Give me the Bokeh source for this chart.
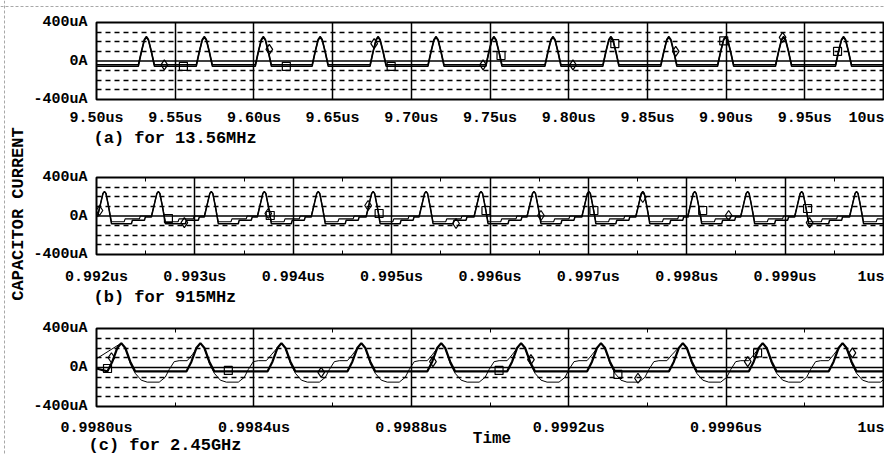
from math import pi
from bokeh.plotting import figure
from bokeh.models import Range1d, FixedTicker, Span, Label, LinearAxis
from bokeh.layouts import row, column
from bokeh.embed import file_html
from bokeh.resources import INLINE

FONT = "Liberation Mono"

# ---------------- panel (a): 13.56 MHz, time in us ----------------
a_range = (9.50, 10.00)
a_ticks = [9.50, 9.55, 9.60, 9.65, 9.70, 9.75, 9.80, 9.85, 9.90, 9.95, 10.00]
a_tick_labels = ["9.50us", "9.55us", "9.60us", "9.65us", "9.70us", "9.75us",
                 "9.80us", "9.85us", "9.90us", "9.95us", "10us"]
a_peaks = [9.5317, 9.5685, 9.6060, 9.6421, 9.6789, 9.7157, 9.7525,
           9.7900, 9.8268, 9.8636, 9.8997, 9.9365, 9.9746]
a_shape_dt = [-0.0051, -0.0032, -0.0013, 0.0, 0.0013, 0.0032, 0.0051]   # us from peak
a_shape_1 = [-40, 100, 225, 255, 225, 100, -40]                         # uA
a_shape_2 = [-55, 90, 215, 245, 215, 90, -55]
a_dia_t = [9.5431, 9.6098, 9.6764, 9.7456, 9.8027, 9.8680, 9.9359]
a_dia_i = [-40, 120, 180, -40, -40, 100, 245]
a_sq_t = [9.5552, 9.6206, 9.6872, 9.7570, 9.8293, 9.8985, 9.9708]
a_sq_i = [-55, -55, -55, 57, 180, 210, 100]

# ---------------- panel (b): 915 MHz ----------------
b_range = (0.992, 1.000)
b_ticks = [0.992, 0.993, 0.994, 0.995, 0.996, 0.997, 0.998, 0.999, 1.000]
b_minor = [0.9925, 0.9935, 0.9945, 0.9955, 0.9965, 0.9975, 0.9985, 0.9995]
b_tick_labels = ["0.992us", "0.993us", "0.994us", "0.995us", "0.996us",
                 "0.997us", "0.998us", "0.999us", "1us"]
b_peaks = [0.992081, 0.992629, 0.993167, 0.993706, 0.994254, 0.994812, 0.995350,
           0.995909, 0.996447, 0.997005, 0.997553, 0.998081, 0.998619, 0.999168, 0.999726]
b_shape_dt_ns_1 = [-0.071, -0.041, -0.015, 0.0, 0.015, 0.041, 0.071, 0.274, 0.284, 0.406, 0.416, 0.467]
b_shape_1 = [-10, 120, 235, 255, 235, 100, -80, -80, -45, -45, -10, -10]
b_shape_dt_ns_2 = [-0.071, -0.041, -0.015, 0.0, 0.015, 0.041, 0.071, 0.200, 0.210, 0.355, 0.365, 0.467]
b_shape_2 = [0, 125, 235, 250, 235, 105, -60, -60, -30, -30, 0, 0]
b_dia_t = [0.992030, 0.992893, 0.993746, 0.994761, 0.995655, 0.996518, 0.997553, 0.998426, 0.999249]
b_dia_i = [57, -68, 26, 109, -78, 5, 192, 5, -68]
b_sq_t = [0.992731, 0.993766, 0.994873, 0.995959, 0.997056, 0.998162, 0.999228]
b_sq_i = [-26, 5, 26, 57, 57, 57, 78]

# ---------------- panel (c): 2.45 GHz ----------------
c_range = (0.9980, 1.0000)
c_ticks = [0.9980, 0.9984, 0.9988, 0.9992, 0.9996, 1.0000]
c_minor = [0.9982, 0.9986, 0.9990, 0.9994, 0.9998]
c_tick_labels = ["0.9980us", "0.9984us", "0.9988us", "0.9992us", "0.9996us", "1us"]
c_peaks = [0.998063, 0.998264, 0.998470, 0.998673, 0.998876,
           0.999079, 0.999282, 0.999490, 0.999693, 0.999896]
c_thick_dt_ns = [-0.0355, -0.0228, -0.0102, 0.0, 0.0102, 0.0228, 0.0355]
c_thick = [-40, 60, 200, 250, 200, 60, -40]
c_thin_dt_ns = [0.0, 0.0102, 0.0228, 0.0355, 0.0508, 0.066, 0.0964, 0.1117,
                0.1218, 0.1345, 0.1472, 0.1675, 0.1802]
c_thin = [250, 200, 40, -60, -130, -150, -150, -100, -20, 60, 70, 70, 130]
c_thick_start, c_thin_start = -10, 90
c_dia_t = [0.998038, 0.998571, 0.998855, 0.999104, 0.999376, 0.999655, 0.999921]
c_dia_i = [100, -50, 60, 80, -110, 60, 150]
c_sq_t = [0.998028, 0.998335, 0.999023, 0.999325, 0.999680]
c_sq_i = [-10, -30, -30, -70, 150]

y_ticks = [-400, 0, 400]
y_tick_labels = ["-400uA", "0A", "400uA"]
y_dashed = [-300, -200, -100, 100, 200, 300]

captions = ["(a) for 13.56MHz", "(b) for 915MHz", "(c) for 2.45GHz"]
x_title = "Time"
y_title = "CAPACITOR CURRENT"


def train(peaks, dts, vals, scale=1.0, start=None, end=None):
    xs, ys = [], []
    if start is not None:
        xs.append(start[0]); ys.append(start[1])
    for pk in peaks:
        for dt, v in zip(dts, vals):
            xs.append(pk + dt * scale); ys.append(v)
    if end is not None and xs[-1] < end[0]:
        xs.append(end[0]); ys.append(end[1])
    return xs, ys


PAGE_W, PAGE_H = 884, 454
LAB_W = 30
COL_W = PAGE_W - LAB_W


def panel(xr, height, top, bottom, ticks, labels, minor, standoff=13):
    p = figure(width=COL_W, height=height, x_range=Range1d(*xr), y_range=Range1d(-400, 400),
               output_backend="svg", toolbar_location=None,
               min_border_left=95 - LAB_W, min_border_right=1,
               min_border_top=top, min_border_bottom=bottom)
    p.outline_line_color = "black"
    p.outline_line_width = 2
    p.background_fill_color = "white"
    p.border_fill_color = None          # transparent: the caption layer shows through

    ax = p.xaxis[0]
    ax.ticker = FixedTicker(ticks=ticks, minor_ticks=minor)
    ax.major_label_overrides = {t: l for t, l in zip(ticks, labels)}
    ax.axis_line_color = None
    ax.major_tick_in = 0
    ax.major_tick_out = 0
    ax.minor_tick_in = 4
    ax.minor_tick_out = 0
    ax.minor_tick_line_color = "black"
    ax.major_label_standoff = standoff
    ax.major_label_text_font = FONT
    ax.major_label_text_font_size = "15px"
    ax.major_label_text_font_style = "bold"
    ax.major_label_text_color = "black"

    if minor:
        top_ax = LinearAxis(ticker=FixedTicker(ticks=[], minor_ticks=minor),
                            axis_line_color=None,
                            major_tick_in=0, major_tick_out=0,
                            minor_tick_in=4, minor_tick_out=0,
                            minor_tick_line_color="black", major_label_standoff=0)
        p.add_layout(top_ax, "above")

    ay = p.yaxis[0]
    ay.ticker = FixedTicker(ticks=y_ticks)
    ay.major_label_overrides = {t: l for t, l in zip(y_ticks, y_tick_labels)}
    ay.axis_line_color = None
    ay.major_tick_in = 0
    ay.major_tick_out = 0
    ay.minor_tick_line_color = None
    ay.major_label_standoff = 9
    ay.major_label_text_font = FONT
    ay.major_label_text_font_size = "15px"
    ay.major_label_text_font_style = "bold"
    ay.major_label_text_color = "black"

    p.xgrid.ticker = FixedTicker(ticks=ticks)
    p.xgrid.grid_line_color = "black"
    p.xgrid.grid_line_width = 1.5
    p.ygrid.ticker = FixedTicker(ticks=y_dashed)
    p.ygrid.grid_line_color = "black"
    p.ygrid.grid_line_width = 1.4
    p.ygrid.grid_line_dash = "5 4"
    p.add_layout(Span(location=0, dimension="width", line_color="black", line_width=1.3))
    return p


def text_label(x, y, text, size="17px", align="left", angle=0.0, **kw):
    return Label(x=x, y=y, text=text, angle=angle, text_align=align, text_baseline="middle",
                 text_font=FONT, text_font_size=size, text_font_style="bold", text_color="black", **kw)


MK = dict(fill_color=None, line_color="black", line_width=1.2)

# panel a
pa = panel(a_range, 150, 22, 51, a_ticks, a_tick_labels, [], standoff=10)
x1, y1 = train(a_peaks, a_shape_dt, a_shape_1, start=(a_range[0], a_shape_1[0]), end=(a_range[1], a_shape_1[-1]))
x2, y2 = train(a_peaks, a_shape_dt, a_shape_2, start=(a_range[0], a_shape_2[0]), end=(a_range[1], a_shape_2[-1]))
pa.line(x1, y1, line_color="black", line_width=1.5)
pa.line(x2, y2, line_color="black", line_width=1.5)
pa.scatter(a_dia_t, a_dia_i, marker="diamond", size=10, **MK)
pa.scatter(a_sq_t, a_sq_i, marker="square", size=8, **MK)

# panel b
pb = panel(b_range, 155, 27, 51, b_ticks, b_tick_labels, b_minor, standoff=14)
x1, y1 = train(b_peaks, b_shape_dt_ns_1, b_shape_1, scale=0.001)
x2, y2 = train(b_peaks, b_shape_dt_ns_2, b_shape_2, scale=0.001)
pb.line(x1, y1, line_color="black", line_width=1.5)
pb.line(x2, y2, line_color="black", line_width=1.1)
pb.scatter(b_dia_t, b_dia_i, marker="diamond", size=10, **MK)
pb.scatter(b_sq_t, b_sq_i, marker="square", size=8, **MK)

# panel c
pc = panel(c_range, PAGE_H - 305, 23, 48, c_ticks, c_tick_labels, c_minor, standoff=13)
x1, y1 = train(c_peaks, c_thick_dt_ns, c_thick, scale=0.001,
               start=(c_range[0], c_thick_start), end=(c_range[1], c_thick[-1]))
x2, y2 = train(c_peaks, c_thin_dt_ns, c_thin, scale=0.001, start=(c_range[0], c_thin_start))
pc.line(x2, y2, line_color="black", line_width=1.0)
pc.line(x1, y1, line_color="black", line_width=2.2)
pc.scatter(c_dia_t, c_dia_i, marker="diamond", size=10, **MK)
pc.scatter(c_sq_t, c_sq_i, marker="square", size=8, **MK)

# caption layer behind the panels: full page, pixel coordinates (y measured from the bottom)
cap = figure(width=PAGE_W, height=PAGE_H, x_range=Range1d(0, PAGE_W), y_range=Range1d(0, PAGE_H),
             output_backend="svg", toolbar_location=None, min_border=0,
             x_axis_location=None, y_axis_location=None)
cap.outline_line_color = None
cap.background_fill_color = "white"
cap.border_fill_color = "white"
for g in cap.grid:
    g.visible = False
cap.add_layout(Span(location=4, dimension="height", line_color="#a8a8a8", line_width=1, line_dash="3 2"))
cap.add_layout(Span(location=PAGE_H - 6, dimension="width", line_color="#a8a8a8", line_width=1, line_dash="3 2"))
cap.add_layout(text_label(18, PAGE_H - 213.5, y_title, align="center", angle=pi / 2))
cap.add_layout(text_label(93, PAGE_H - 138, captions[0]))
cap.add_layout(text_label(93, PAGE_H - 296.5, captions[1]))
cap.add_layout(text_label(88, PAGE_H - 445, captions[2]))
cap.add_layout(text_label(491.5, PAGE_H - 438, x_title, size="16px", align="center"))

panels = column(pa, pb, pc)
panels.margin = (0, 0, 0, -COL_W)
layout = row(cap, panels)
open("out.html", "w").write(file_html(layout, INLINE))
